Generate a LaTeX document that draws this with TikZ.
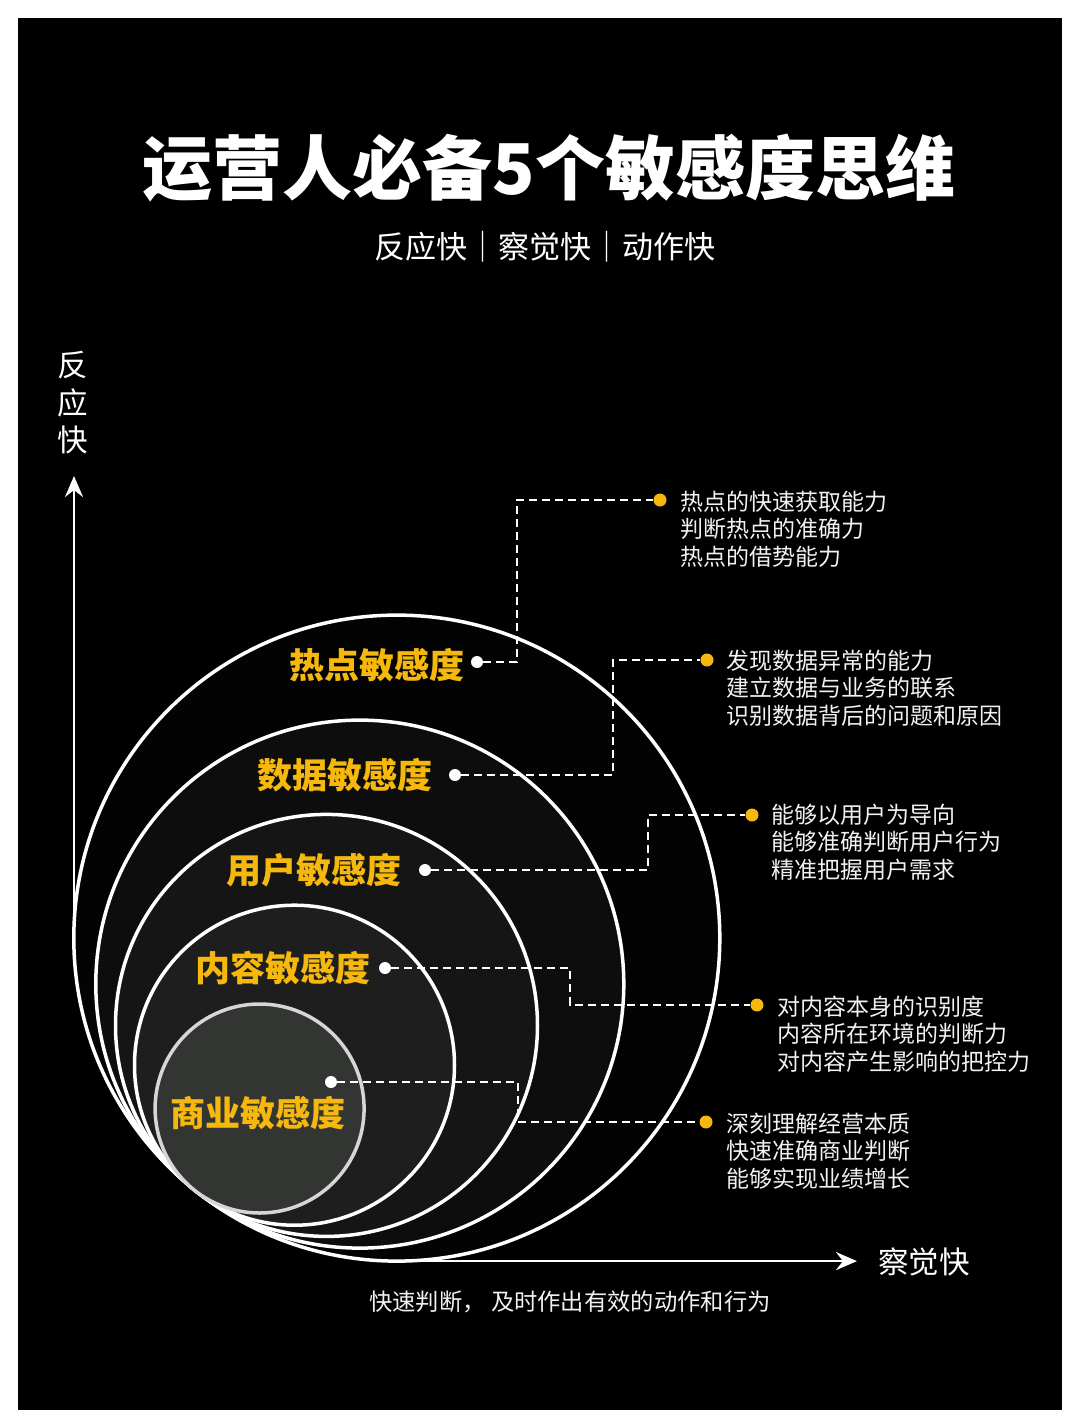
\documentclass[tikz,border=0pt]{standalone}
\usepackage{fontspec}
\setmainfont{Noto Sans CJK SC}
\usetikzlibrary{arrows.meta}
\definecolor{gold}{HTML}{F6B80C}
\definecolor{fillA}{HTML}{030303}
\definecolor{fillB}{HTML}{0D0D0E}
\definecolor{fillC}{HTML}{151515}
\definecolor{fillD}{HTML}{1E1E1E}
\definecolor{fillE}{HTML}{333533}
\definecolor{ringE}{HTML}{D6D6D6}
\definecolor{txt}{HTML}{F2F2F2}
\begin{document}
\begin{tikzpicture}[x=1pt,y=-1pt,
  ring/.style={circle, draw=white, line width=3.5pt, inner sep=0},
  wdot/.style={circle, fill=white, inner sep=0, minimum size=12pt},
  ydot/.style={circle, fill=gold, inner sep=0, minimum size=13pt},
  lead/.style={draw=white, line width=1.8pt, dash pattern=on 8pt off 5pt},
  sens/.style={anchor=east, inner sep=0, text=gold, font=\fontsize{35}{35}\bfseries\selectfont},
  desc/.style={anchor=north west, inner sep=0, text=txt, align=left, font=\fontsize{23}{27.5}\selectfont},
  axis/.style={draw=white, line width=2.6pt, -{Stealth[length=21pt,width=18pt,inset=7pt]}},
  big/.style={text=white, inner sep=0, font=\fontsize{30.5}{37.5}\selectfont}
]
\fill[white] (0,0) rectangle (1080,1428);
\fill[black] (18,18) rectangle (1062,1410);
\useasboundingbox (0,0) rectangle (1080,1428);

% title
\node[text=white, inner sep=0, font=\fontsize{70}{70}\bfseries\selectfont] (title) at (549,168) {运营人必备5个敏感度思维};
\node[big, font=\fontsize{31}{31}\selectfont] (sub) at (545,247) {反应快｜察觉快｜动作快};

% rings
\node[ring, fill=fillA, minimum size=646pt] (ring1) at (396.8,938.1) {};
\node[ring, fill=fillB, minimum size=528pt] (ring2) at (359.8,984.1) {};
\node[ring, fill=fillC, minimum size=422pt] (ring3) at (326.5,1025.4) {};
\node[ring, fill=fillD, minimum size=320pt] (ring4) at (294.5,1065.2) {};
\node[ring, draw=ringE, fill=fillE, minimum size=209pt] (ring5) at (259.6,1108.5) {};

% axes
\coordinate (yo) at (74,938.1);
\coordinate (ytip) at (74,476);
\coordinate (xo) at (396.8,1261.1);
\coordinate (xtip) at (857,1261.1);
\draw[axis] (yo) -- (ytip);
\draw[axis] (xo) -- (xtip);
\node[big, align=center] (ylab) at (73,403) {反\\应\\快};
\node[big] (xlab) at (924,1262) {察觉快};
\node[text=txt, inner sep=0, font=\fontsize{23.3}{23.3}\selectfont] (cap) at (570,1302) {快速判断， 及时作出有效的动作和行为};

% white dots
\node[wdot] (wd1) at (477,662) {};
\node[wdot] (wd2) at (455,775) {};
\node[wdot] (wd3) at (425,870) {};
\node[wdot] (wd4) at (385,968) {};
\node[wdot] (wd5) at (331,1082) {};

% yellow dots
\node[ydot] (yd1) at (660,500) {};
\node[ydot] (yd2) at (707,660) {};
\node[ydot] (yd3) at (752,815) {};
\node[ydot] (yd4) at (757,1005) {};
\node[ydot] (yd5) at (706,1122) {};

% corners
\coordinate (k1) at (517,500);
\coordinate (k2) at (613,660);
\coordinate (k3) at (648,815);
\coordinate (k4) at (570,1005);
\coordinate (k5) at (518,1122);

\draw[lead] (wd1) -| (k1) -- (yd1);
\draw[lead] (wd2) -| (k2) -- (yd2);
\draw[lead] (wd3) -| (k3) -- (yd3);
\draw[lead] (wd4) -| (k4) -- (yd4);
\draw[lead] (wd5) -| (k5) -- (yd5);

% labels
\node[sens] (s1) at (465,665) {热点敏感度};
\node[sens] (s2) at (433,775) {数据敏感度};
\node[sens] (s3) at (402,870) {用户敏感度};
\node[sens] (s4) at (371,968) {内容敏感度};
\node[sens] (s5) at (346,1113) {商业敏感度};

% descriptions
\node[desc] (d1) at (680,490.5) {热点的快速获取能力\\判断热点的准确力\\热点的借势能力};
\node[desc] (d2) at (726,649.5) {发现数据异常的能力\\建立数据与业务的联系\\识别数据背后的问题和原因};
\node[desc] (d3) at (771,803.5) {能够以用户为导向\\能够准确判断用户行为\\精准把握用户需求};
\node[desc] (d4) at (777,995.5) {对内容本身的识别度\\内容所在环境的判断力\\对内容产生影响的把控力};
\node[desc] (d5) at (726,1112.5) {深刻理解经营本质\\快速准确商业判断\\能够实现业绩增长};
\end{tikzpicture}
\end{document}
